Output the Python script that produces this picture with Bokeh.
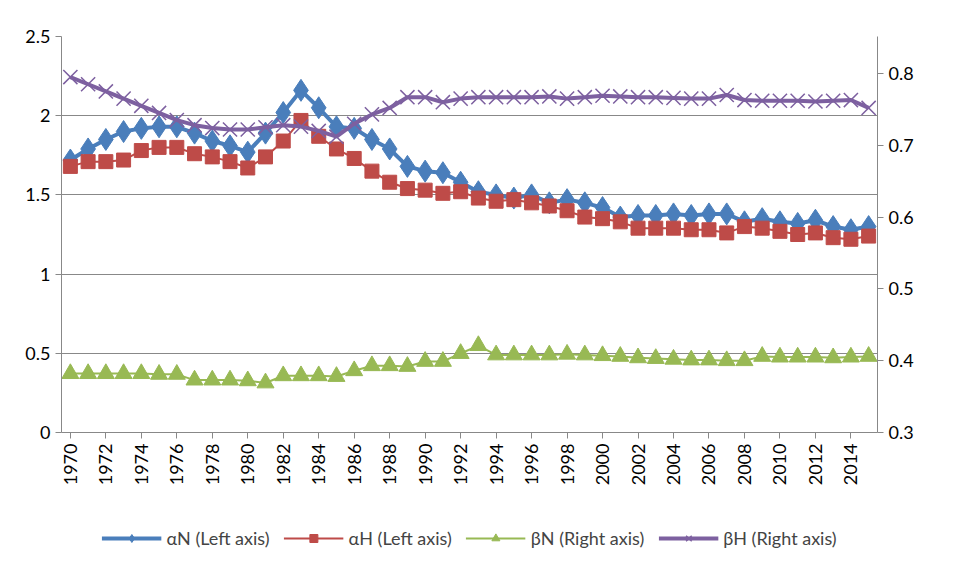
import math
from bokeh.plotting import figure
from bokeh.layouts import column
from bokeh.models import Range1d, LinearAxis, FixedTicker, Legend, LegendItem
from bokeh.embed import file_html
from bokeh.resources import INLINE

years = list(range(1970, 2016))
alpha_n = [1.72, 1.79, 1.85, 1.90, 1.92, 1.93, 1.93, 1.89, 1.84, 1.81, 1.77, 1.89, 2.02, 2.16,
           2.05, 1.93, 1.92, 1.85, 1.79, 1.68, 1.65, 1.64, 1.58, 1.52, 1.50, 1.48, 1.50, 1.45,
           1.47, 1.45, 1.42, 1.36, 1.37, 1.37, 1.38, 1.37, 1.38, 1.38, 1.33, 1.35, 1.33, 1.32,
           1.34, 1.30, 1.28, 1.30]
alpha_h = [1.68, 1.71, 1.71, 1.72, 1.78, 1.80, 1.80, 1.76, 1.74, 1.71, 1.67, 1.74, 1.84, 1.97,
           1.87, 1.79, 1.73, 1.65, 1.58, 1.54, 1.53, 1.51, 1.52, 1.48, 1.46, 1.47, 1.45, 1.43,
           1.40, 1.36, 1.35, 1.33, 1.29, 1.29, 1.29, 1.28, 1.28, 1.26, 1.30, 1.29, 1.27, 1.25,
           1.26, 1.23, 1.22, 1.24]
beta_n = [0.382, 0.382, 0.382, 0.382, 0.382, 0.381, 0.381, 0.373, 0.373, 0.373, 0.372, 0.369,
          0.379, 0.379, 0.379, 0.378, 0.386, 0.393, 0.393, 0.392, 0.399, 0.399, 0.410, 0.421,
          0.408, 0.408, 0.408, 0.408, 0.409, 0.408, 0.407, 0.406, 0.404, 0.403, 0.402, 0.401,
          0.401, 0.400, 0.400, 0.406, 0.405, 0.405, 0.405, 0.404, 0.405, 0.406]
beta_h = [0.795, 0.785, 0.775, 0.765, 0.755, 0.745, 0.735, 0.728, 0.724, 0.722, 0.722, 0.725,
          0.728, 0.726, 0.720, 0.712, 0.730, 0.743, 0.752, 0.767, 0.767, 0.760, 0.765, 0.767,
          0.767, 0.767, 0.767, 0.768, 0.765, 0.767, 0.769, 0.768, 0.767, 0.767, 0.766, 0.765,
          0.765, 0.770, 0.763, 0.762, 0.762, 0.762, 0.761, 0.762, 0.763, 0.752]
labels = ["αN (Left axis)", "αH (Left axis)", "βN (Right axis)", "βH (Right axis)"]

FONT = "Lato"
p = figure(width=940, height=498, output_backend="svg", toolbar_location=None,
           x_range=Range1d(1969.5, 2015.5), y_range=Range1d(0, 2.5),
           outline_line_color=None, border_fill_color="white",
           min_border_left=61, min_border_right=63, min_border_top=36, min_border_bottom=66)
p.extra_y_ranges = {"right": Range1d(0.3, 0.8515)}
p.add_layout(LinearAxis(y_range_name="right", ticker=FixedTicker(ticks=[0.3, 0.4, 0.5, 0.6, 0.7, 0.8])), "right")

p.xaxis.ticker = FixedTicker(ticks=list(range(1970, 2016, 2)))
p.xaxis.major_label_orientation = math.pi / 2
p.yaxis[0].ticker = FixedTicker(ticks=[0, 0.5, 1, 1.5, 2, 2.5])
for ax in p.axis:
    ax.major_label_text_font = FONT
    ax.major_label_text_font_size = "18px"
    ax.major_label_text_color = "black"
    ax.axis_line_color = "#888888"
    ax.major_tick_line_color = "#888888"
    ax.minor_tick_line_color = None
    ax.major_tick_in = 0
    ax.major_tick_out = 6
p.xgrid.grid_line_color = None
p.ygrid.grid_line_color = "#888888"
p.ygrid.ticker = FixedTicker(ticks=[0.5, 1, 1.5, 2, 2.5])

# legend lives in a small figure of its own below the chart
lg = figure(width=940, height=80, output_backend="svg", toolbar_location=None,
            x_range=Range1d(0, 1), y_range=Range1d(0, 1),
            x_axis_type=None, y_axis_type=None, outline_line_color=None,
            min_border=0)
lg.grid.visible = False

styles = [
    (alpha_n, None, "#4a7ebb", 4, dict(marker="diamond", size=22, color="#4a7ebb")),
    (alpha_h, None, "#be4b48", 2, dict(marker="square", size=14, color="#be4b48")),
    (beta_n, "right", "#98b954", 2, dict(marker="triangle", size=17, color="#98b954")),
    (beta_h, "right", "#7d60a0", 4, dict(marker="x", size=20, line_color="#7d60a0", line_width=1.5)),
]
items = []
for (ys, rng, col, lw, mk), lab in zip(styles, labels):
    kw = {"y_range_name": rng} if rng else {}
    p.line(years, ys, line_color=col, line_width=lw, **kw)
    p.scatter(years, ys, **mk, **kw)
    # off-screen stand-ins, only so the legend has glyphs to draw
    gl = lg.line([-5, -4], [-5, -5], line_color=col, line_width=lw)
    gm = lg.scatter([-5], [-5], **mk)
    items.append(LegendItem(label=lab, renderers=[gl, gm]))

legend = Legend(items=items, orientation="horizontal", location="center",
                label_text_font=FONT, label_text_font_size="18px",
                border_line_color=None, glyph_width=60, spacing=14, padding=0, margin=0)
lg.add_layout(legend, "center")

open("out.html", "w").write(file_html(column(p, lg, spacing=0), INLINE))
